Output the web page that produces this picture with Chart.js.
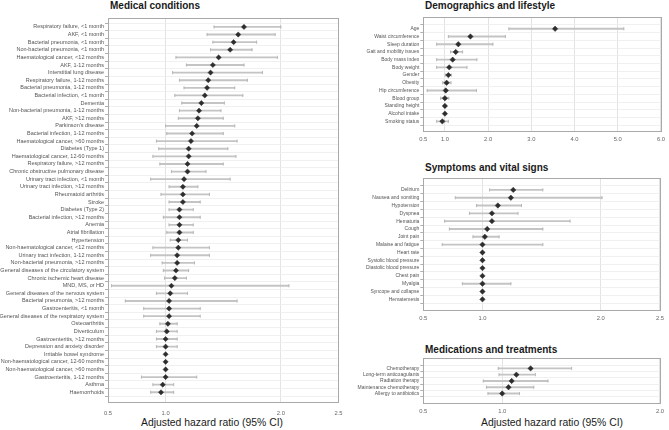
<!DOCTYPE html>
<html>
<head>
<meta charset="utf-8">
<script src="https://cdn.jsdelivr.net/npm/chart.js@4.4.1/dist/chart.umd.min.js"></script>
<style>
  html, body { margin: 0; padding: 0; background: #fff; }
  body { width: 669px; height: 430px; position: relative; overflow: hidden; font-family: "Liberation Sans", Arial, sans-serif; }
  canvas { position: absolute; }
  .title { position: absolute; font-size: 10px; font-weight: bold; color: #1a1a1a; line-height: 10px; white-space: nowrap; }
  .xtitle { position: absolute; font-size: 10.4px; color: #1a1a1a; line-height: 10px; white-space: nowrap; transform: translateX(-50%); }
</style>
</head>
<body>
<div class="title" style="left:110px;top:1px">Medical conditions</div>
<div class="title" style="left:425px;top:1px">Demographics and lifestyle</div>
<div class="title" style="left:425px;top:162.5px">Symptoms and vital signs</div>
<div class="title" style="left:425px;top:344.5px">Medications and treatments</div>
<div class="xtitle" style="left:212px;top:418px">Adjusted hazard ratio (95% CI)</div>
<div class="xtitle" style="left:552px;top:418px">Adjusted hazard ratio (95% CI)</div>

<canvas id="medical" width="350" height="430" style="left:0;top:0"></canvas>
<canvas id="demo" width="339" height="150" style="left:330px;top:0"></canvas>
<canvas id="symptoms" width="339" height="180" style="left:330px;top:150px"></canvas>
<canvas id="meds" width="339" height="100" style="left:330px;top:330px"></canvas>

<script>
// Medical conditions
const medLabels = [
  'Respiratory failure, <1 month', 'AKF, <1 month', 'Bacterial pneumonia, <1 month',
  'Non-bacterial pneumonia, <1 month', 'Haematological cancer, <12 months', 'AKF, 1-12 months',
  'Interstitial lung disease', 'Respiratory failure, 1-12 months', 'Bacterial pneumonia, 1-12 months',
  'Bacterial infection, <1 month', 'Dementia', 'Non-bacterial pneumonia, 1-12 months',
  'AKF, >12 months', "Parkinson's disease", 'Bacterial infection, 1-12 months',
  'Haematological cancer, >60 months', 'Diabetes (Type 1)', 'Haematological cancer, 12-60 months',
  'Respiratory failure, >12 months', 'Chronic obstructive pulmonary disease', 'Urinary tract infection, <1 month',
  'Urinary tract infection, >12 months', 'Rheumatoid arthritis', 'Stroke',
  'Diabetes (Type 2)', 'Bacterial infection, >12 months', 'Anemia',
  'Atrial fibrillation', 'Hypertension', 'Non-haematological cancer, <12 months',
  'Urinary tract infection, 1-12 months', 'Non-bacterial pneumonia, >12 months', 'General diseases of the circulatory system',
  'Chronic ischemic heart disease', 'MND, MS, or HD', 'General diseases of the nervous system',
  'Bacterial pneumonia, >12 months', 'Gastroenteritis, <1 month', 'General diseases of the respiratory system',
  'Osteoarthritis', 'Diverticulum', 'Gastroenteritis, >12 months',
  'Depression and anxiety disorder', 'Irritable bowel syndrome', 'Non-haematological cancer, 12-60 months',
  'Non-haematological cancer, >60 months', 'Gastroenteritis, 1-12 months', 'Asthma',
  'Haemorrhoids'
];
const medHR = [1.68, 1.63, 1.59, 1.56, 1.46, 1.41, 1.39, 1.37, 1.36, 1.34, 1.31, 1.29, 1.28, 1.27, 1.23,
  1.22, 1.20, 1.20, 1.19, 1.19, 1.16, 1.15, 1.15, 1.15, 1.12, 1.12, 1.12, 1.12, 1.11, 1.11, 1.10, 1.10,
  1.09, 1.08, 1.05, 1.04, 1.03, 1.03, 1.03, 1.02, 1.01, 1.00, 1.00, 1.00, 1.00, 1.00, 1.00, 0.975, 0.96];
const medLo = [1.42, 1.36, 1.41, 1.39, 1.09, 1.18, 1.06, 1.12, 1.16, 1.08, 1.14, 1.12, 1.11, 1.00, 1.01,
  0.92, 0.94, 0.89, 0.95, 1.05, 0.87, 1.03, 0.96, 1.03, 1.03, 0.98, 1.03, 1.01, 1.04, 0.89, 0.87, 0.97,
  0.98, 0.99, 0.53, 0.92, 0.65, 0.81, 0.81, 0.95, 0.92, 0.92, 0.92, null, null, null, 0.79, 0.89, 0.87];
const medHi = [2.00, 1.95, 1.79, 1.75, 1.97, 1.68, 1.84, 1.71, 1.60, 1.67, 1.51, 1.48, 1.50, 1.60, 1.50,
  1.62, 1.54, 1.61, 1.50, 1.35, 1.56, 1.28, 1.38, 1.30, 1.24, 1.30, 1.24, 1.24, 1.19, 1.38, 1.38, 1.25,
  1.20, 1.18, 2.07, 1.19, 1.62, 1.30, 1.30, 1.10, 1.10, 1.10, 1.10, null, null, null, 1.27, 1.07, 1.07];
const medTicks = [0.5, 1.0, 2.0, 2.5];

// Demographics and lifestyle
const demoLabels = ['Age', 'Waist circumference', 'Sleep duration', 'Gait and mobility issues', 'Body mass index',
  'Body weight', 'Gender', 'Obesity', 'Hip circumference', 'Blood group', 'Standing height', 'Alcohol intake',
  'Smoking status'];
const demoHR = [3.55, 1.59, 1.31, 1.25, 1.18, 1.10, 1.08, 1.04, 1.02, 1.00, 1.00, 1.00, 0.94];
const demoLo = [2.48, 1.08, 0.81, 1.13, 0.81, 0.81, 1.01, 0.95, 0.59, 0.90, null, null, 0.81];
const demoHi = [5.14, 2.40, 2.11, 1.41, 1.74, 1.51, 1.15, 1.14, 1.73, 1.09, null, null, 1.08];
const demoTicks = [0.5, 1.0, 2.0, 3.0, 4.0, 5.0, 6.0];

// Symptoms and vital signs
const symLabels = ['Delirium', 'Nausea and vomiting', 'Hypotension', 'Dyspnea', 'Hematuria', 'Cough', 'Joint pain',
  'Malaise and fatigue', 'Heart rate', 'Systolic blood pressure', 'Diastolic blood pressure', 'Chest pain',
  'Myalgia', 'Syncope and collapse', 'Hematemesis'];
const symHR = [1.26, 1.24, 1.13, 1.08, 1.08, 1.04, 1.02, 1.00, 1.00, 1.00, 1.00, 1.00, 1.00, 1.00, 1.00];
const symLo = [1.06, 0.77, 0.95, 0.89, 0.68, 0.72, 0.92, 0.66, null, null, null, null, 0.83, null, null];
const symHi = [1.51, 2.01, 1.33, 1.30, 1.74, 1.51, 1.14, 1.51, null, null, null, null, 1.24, null, null];
const symTicks = [0.5, 1.0, 2.0, 2.5];

// Medications and treatments
const rxLabels = ['Chemotherapy', 'Long-term anticoagulants', 'Radiation therapy', 'Maintenance chemotherapy',
  'Allergy to antibiotics'];
const rxHR = [1.18, 1.09, 1.06, 1.04, 1.00];
const rxLo = [0.975, 0.98, 0.88, 0.90, 0.91];
const rxHi = [1.44, 1.21, 1.29, 1.20, 1.11];
const rxTicks = [0.5, 1.0, 2.0];

// рамка вокруг области графика
const boxPlugin = {
  id: 'box',
  beforeDatasetsDraw(chart) {
    const { ctx, chartArea: a } = chart;
    ctx.save();
    ctx.strokeStyle = '#a9a9a9';
    ctx.lineWidth = 1;
    ctx.strokeRect(Math.round(a.left) + 0.5, Math.round(a.top) + 0.5, Math.round(a.width), Math.round(a.height));
    ctx.restore();
  }
};

function forestChart(id, labels, hr, lo, hi, ticks, geo) {
  const rows = labels.map((_, i) => i);
  const withCI = rows.filter(i => lo[i] != null);
  const ciData = withCI.map(i => ({ x: [lo[i], hi[i]], y: i }));
  const capData = [];
  withCI.forEach(i => {
    capData.push({ x: lo[i], y: i });
    capData.push({ x: hi[i], y: i });
  });
  const hrData = rows.map(i => ({ x: hr[i], y: i }));

  return new Chart(document.getElementById(id), {
    type: 'bar',
    data: {
      datasets: [
        {
          type: 'scatter',
          data: hrData,
          pointStyle: 'rectRot',
          pointRadius: geo.dot,
          pointBackgroundColor: '#2d2d2d',
          pointBorderColor: '#2d2d2d',
          pointBorderWidth: 0.5,
          order: 0
        },
        {
          type: 'scatter',
          data: capData,
          pointStyle: 'line',
          pointRotation: 90,
          pointRadius: 1.6,
          pointBorderColor: '#b8b8b8',
          pointBorderWidth: 1,
          order: 1
        },
        {
          type: 'bar',
          data: ciData,
          backgroundColor: '#c4c4c4',
          barThickness: 1.2,
          order: 2
        }
      ]
    },
    options: {
      indexAxis: 'y',
      responsive: false,
      animation: false,
      layout: { padding: { left: 0, top: geo.top, right: geo.right, bottom: 0 } },
      plugins: { legend: { display: false }, tooltip: { enabled: false } },
      scales: {
        x: {
          type: 'linear',
          min: ticks[0],
          max: ticks[ticks.length - 1],
          afterBuildTicks: axis => { axis.ticks = ticks.map(v => ({ value: v })); },
          afterFit: axis => { axis.height = geo.xh; },
          border: { display: false },
          grid: { color: '#dcdcdc', lineWidth: 0.8, drawTicks: false },
          ticks: {
            autoSkip: false, maxRotation: 0, padding: geo.xpad, color: '#666',
            font: { family: 'Liberation Sans', size: 5.8 },
            callback: v => v.toFixed(1)
          }
        },
        y: {
          type: 'linear',
          reverse: true,
          min: -geo.padTop,
          max: labels.length - 1 + geo.padBot,
          afterBuildTicks: axis => { axis.ticks = rows.map(v => ({ value: v })); },
          afterFit: axis => { axis.width = geo.yw; },
          border: { display: false },
          grid: { color: '#ececec', lineWidth: 0.8, tickLength: 3, tickColor: '#9c9c9c' },
          ticks: {
            autoSkip: false, padding: 1, color: '#555',
            font: { family: 'Liberation Sans', size: geo.labelSize },
            callback: v => labels[v]
          }
        }
      }
    },
    plugins: [boxPlugin]
  });
}

forestChart('medical', medLabels, medHR, medLo, medHi, medTicks,
  { yw: 108, top: 18.3, right: 7, xh: 28, xpad: 7.5, padTop: 0.62, padBot: 0.76, labelSize: 5.5, dot: 2.6 });
forestChart('demo', demoLabels, demoHR, demoLo, demoHi, demoTicks,
  { yw: 93.3, top: 17.3, right: 5.7, xh: 18.3, xpad: 4, padTop: 0.92, padBot: 0.77, labelSize: 5, dot: 2.7 });
forestChart('symptoms', symLabels, symHR, symLo, symHi, symTicks,
  { yw: 93.3, top: 28.3, right: 5.7, xh: 20, xpad: 5, padTop: 0.92, padBot: 0.8, labelSize: 5, dot: 2.7 });
forestChart('meds', rxLabels, rxHR, rxLo, rxHi, rxTicks,
  { yw: 93.3, top: 28.3, right: 5.7, xh: 26.7, xpad: 5, padTop: 0.89, padBot: 0.84, labelSize: 5, dot: 2.7 });
</script>
</body>
</html>
